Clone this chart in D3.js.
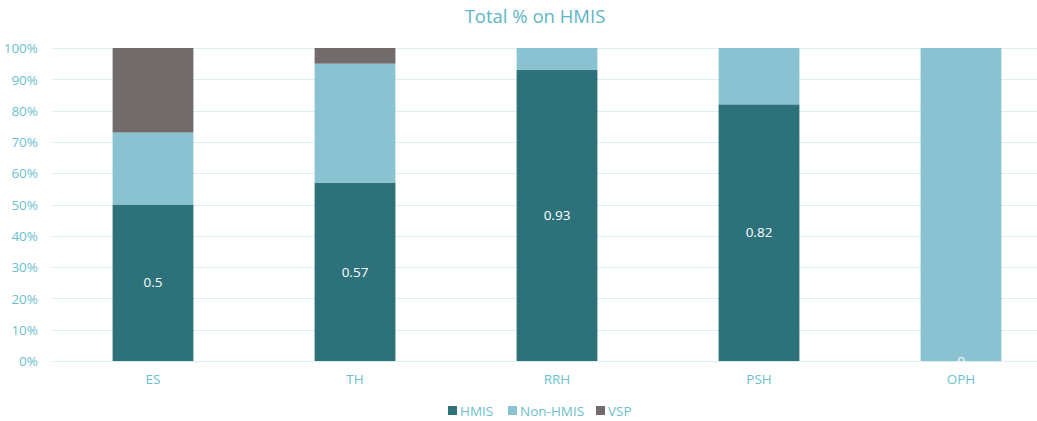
<!DOCTYPE html>
<html><head><meta charset="utf-8">
<script src="https://cdn.jsdelivr.net/npm/d3@7"></script>
<style>body{margin:0;background:#fff;} text{font-family:"Open Sans","Segoe UI",sans-serif;}</style>
</head><body>
<svg id="c" width="1037" height="421"></svg>
<script>
const categories = ["ES","TH","RRH","PSH","OPH"];
const hmis     = [0.50, 0.57, 0.93, 0.82, 0.00];
const nonHmis  = [0.23, 0.38, 0.07, 0.18, 1.00];
const vsp      = [0.27, 0.05, 0.00, 0.00, 0.00];
const yTicks   = [0,0.1,0.2,0.3,0.4,0.5,0.6,0.7,0.8,0.9,1.0];
const seriesNames = ["HMIS","Non-HMIS","VSP"];
const colors = ["#2D727B","#89C2D0","#716C6B"];

const svg = d3.select("#c");
const W = 1037, H = 421;
const x = d3.scaleBand().domain(categories).range([52, 1062]).paddingInner(0.6).paddingOuter(0.3);
const y = d3.scaleLinear().domain([0,1]).range([361, 48]);

// title
svg.append("text").attr("x", 535).attr("y", 23).attr("text-anchor","middle")
  .attr("font-size", 18.5).attr("fill","#5DB6C7").text("Total % on HMIS");

// gridlines
svg.append("g").selectAll("line").data(yTicks).join("line")
  .attr("x1", 52).attr("x2", W).attr("y1", d=>Math.round(y(d))+0.5).attr("y2", d=>Math.round(y(d))+0.5)
  .attr("stroke","#DCEFF3").attr("stroke-width",1);

// y axis labels
const yAxis = d3.axisLeft(y).tickValues(yTicks).tickFormat(d=>Math.round(d*100)+"%").tickSize(0).tickPadding(0);
const ya = svg.append("g").attr("transform","translate(38,0)").call(yAxis);
ya.select(".domain").remove();
ya.selectAll("text").attr("font-size",13.5).attr("fill","#6DBFCD").attr("dy","0.35em").attr("font-family","'Open Sans',sans-serif");

// x axis labels
const xAxis = d3.axisBottom(x).tickSize(0).tickPadding(0);
const xa = svg.append("g").attr("transform","translate(0,375)").call(xAxis);
xa.select(".domain").remove();
xa.selectAll("text").attr("font-size",13.5).attr("fill","#6DBFCD").attr("dy","0.7em").attr("font-family","'Open Sans',sans-serif");

// stacked data
const rows = categories.map((c,i)=>({cat:c, "HMIS":hmis[i], "Non-HMIS":nonHmis[i], "VSP":vsp[i]}));
const stack = d3.stack().keys(seriesNames)(rows);
const g = svg.append("g");
stack.forEach((s,si)=>{
  g.append("g").selectAll("rect").data(s).join("rect")
    .attr("x", d=>x(d.data.cat)).attr("width", x.bandwidth())
    .attr("y", d=>y(d[1])).attr("height", d=>Math.max(0, y(d[0])-y(d[1])))
    .attr("fill", colors[si]);
});

// data labels for HMIS
svg.append("g").selectAll("text").data(stack[0]).join("text")
  .attr("x", d=>x(d.data.cat)+x.bandwidth()/2)
  .attr("y", d=>(y(d[0])+y(d[1]))/2)
  .attr("dy","0.35em").attr("text-anchor","middle").attr("font-size",13.5).attr("fill","#ffffff")
  .text(d=>String(+(d[1]-d[0]).toFixed(2)));

// legend
const leg = svg.append("g").attr("transform","translate(0,411)");
const legX = [448, 508, 596];
seriesNames.forEach((n,i)=>{
  leg.append("rect").attr("x",legX[i]).attr("y",-5).attr("width",9).attr("height",9).attr("fill",colors[i]);
  leg.append("text").attr("x",legX[i]+12).attr("y",0).attr("dy","0.35em").attr("font-size",13.5).attr("fill","#6DBFCD").text(n);
});
</script>
</body></html>
